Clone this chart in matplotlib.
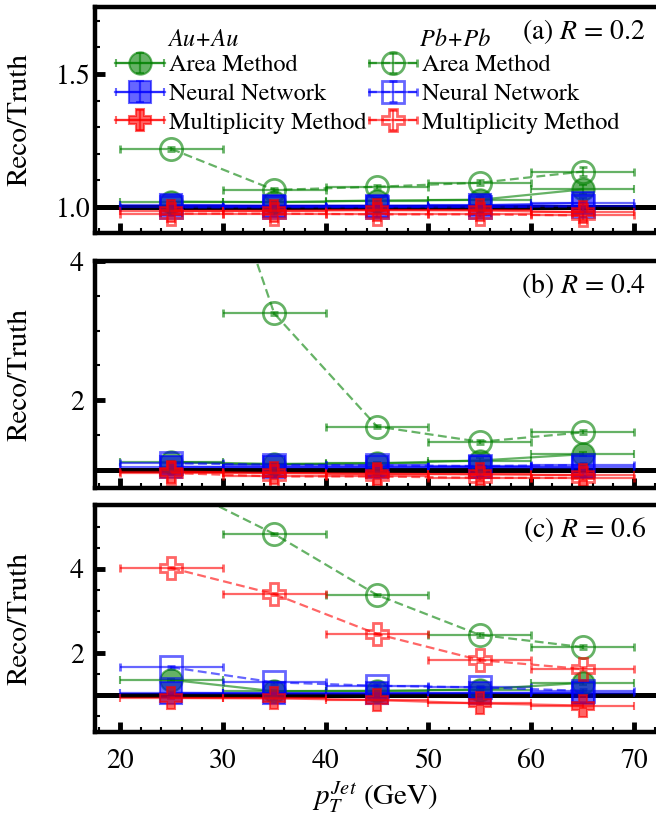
"""
Reco/Truth ratio of jet pT vs truth pT, for three jet radii.
Au+Au (filled, solid) vs Pb+Pb (open, dashed) for three background
subtraction methods.
"""

import matplotlib

matplotlib.use("Agg")
import matplotlib.pyplot as plt  # noqa: E402
from matplotlib.legend_handler import HandlerErrorbar  # noqa: E402
from matplotlib.ticker import FormatStrFormatter, MultipleLocator  # noqa: E402

plt.rcParams["font.family"] = "STIXGeneral"
plt.rcParams["mathtext.fontset"] = "stix"

# ----------------------------------------------------------------------
# Data
# ----------------------------------------------------------------------
pt = [25, 35, 45, 55, 65]
pt_halfwidth = [5, 5, 5, 5, 5]

# R = 0.2
au_area_02 = [1.020, 1.018, 1.024, 1.027, 1.066]
pb_area_02 = [1.218, 1.064, 1.076, 1.091, 1.133]
au_nn_02 = [1.006, 1.005, 1.005, 1.006, 1.015]
pb_nn_02 = [0.998, 0.999, 0.999, 1.000, 1.002]
au_mult_02 = [0.985, 0.986, 0.988, 0.987, 0.980]
pb_mult_02 = [0.975, 0.975, 0.972, 0.972, 0.968]
yerr_02 = [0.006, 0.006, 0.008, 0.010, 0.018]

# R = 0.4
au_area_04 = [1.11, 1.08, 1.09, 1.13, 1.22]
pb_area_04 = [7.60, 3.25, 1.62, 1.40, 1.535]
au_nn_04 = [1.04, 1.035, 1.035, 1.035, 1.03]
pb_nn_04 = [1.09, 1.07, 1.06, 1.05, 1.065]
au_mult_04 = [0.97, 0.95, 0.94, 0.93, 0.92]
pb_mult_04 = [0.95, 0.90, 0.90, 0.88, 0.88]
yerr_04 = [0.02, 0.02, 0.02, 0.03, 0.03]

# R = 0.6
au_area_06 = [1.36, 1.09, 1.10, 1.13, 1.29]
pb_area_06 = [6.05, 4.83, 3.38, 2.43, 2.14]
au_nn_06 = [1.05, 1.04, 1.04, 1.05, 1.05]
pb_nn_06 = [1.66, 1.30, 1.22, 1.18, 1.10]
au_mult_06 = [0.93, 0.92, 0.88, 0.80, 0.75]
pb_mult_06 = [4.02, 3.40, 2.45, 1.83, 1.62]
yerr_06 = [0.03, 0.03, 0.03, 0.04, 0.05]

methods = ["Area Method", "Neural Network", "Multiplicity Method"]
colors = ["green", "blue", "red"]
markers = ["o", "s", "P"]
marker_sizes = [16, 16, 16]

# ----------------------------------------------------------------------
W, H = 656, 818
fig = plt.figure(figsize=(W / 100, H / 100), dpi=100)


def px_axes(top, bottom, left=95, right=656):
    return fig.add_axes([left / W, (H - bottom) / H, (right - left) / W, (bottom - top) / H])


def draw_panel(ax, au_list, pb_list, yerr):
    ax.axhline(1.0, color="black", lw=3.6, zorder=1)
    handles_au, handles_pb = [], []
    for au, pb, c, m, ms in zip(au_list, pb_list, colors, markers, marker_sizes):
        h_au = ax.errorbar(pt, au, xerr=pt_halfwidth, yerr=yerr, fmt=m, ls="-",
                           color=c, mfc=c, mec=c, ms=ms, mew=1.5, lw=1.6,
                           elinewidth=1.6, capsize=3, capthick=1.6, alpha=0.6)
        h_pb = ax.errorbar(pt, pb, xerr=pt_halfwidth, yerr=yerr, fmt=m, ls="--",
                           dashes=(4, 2), color=c, mfc="none", mec=c, ms=ms,
                           mew=2.0, lw=1.6, elinewidth=1.6, capsize=3,
                           capthick=1.6, alpha=0.6)
        handles_au.append(h_au)
        handles_pb.append(h_pb)
    return handles_au, handles_pb


def style_axes(ax, ylim, ymajor, yminor, yfmt, show_xlabels, ypad):
    ax.set_xlim(17.57, 72.14)
    ax.set_ylim(*ylim)
    ax.xaxis.set_major_locator(MultipleLocator(10))
    ax.xaxis.set_minor_locator(MultipleLocator(2))
    ax.yaxis.set_major_locator(MultipleLocator(ymajor))
    ax.yaxis.set_minor_locator(MultipleLocator(yminor))
    ax.yaxis.set_major_formatter(FormatStrFormatter(yfmt))
    for side in ("left", "top", "bottom"):
        ax.spines[side].set_linewidth(3.2)
    ax.spines["right"].set_visible(False)
    ax.tick_params(which="both", direction="in", top=False, right=False, labelsize=20)
    ax.tick_params(which="major", length=7, width=3.5)
    ax.tick_params(which="minor", length=3.5, width=1.5)
    ax.tick_params(axis="x", pad=12, labelbottom=show_xlabels)
    ax.tick_params(axis="y", pad=ypad)
    ax.set_ylabel("Reco/Truth", fontsize=21)
    ax.yaxis.set_label_coords(-0.112, 0.5)


ax_a = px_axes(7, 233)
ax_b = px_axes(261, 488)
ax_c = px_axes(505, 732)

h_au, h_pb = draw_panel(ax_a, [au_area_02, au_nn_02, au_mult_02],
                        [pb_area_02, pb_nn_02, pb_mult_02], yerr_02)
draw_panel(ax_b, [au_area_04, au_nn_04, au_mult_04],
           [pb_area_04, pb_nn_04, pb_mult_04], yerr_04)
draw_panel(ax_c, [au_area_06, au_nn_06, au_mult_06],
           [pb_area_06, pb_nn_06, pb_mult_06], yerr_06)

style_axes(ax_a, (0.902, 1.752), 0.5, 0.1, "%.1f", False, 3)
style_axes(ax_b, (0.734, 4.005), 2, 0.5, "%d", False, 8)
style_axes(ax_c, (0.12, 5.52), 2, 0.5, "%d", True, 8)

ax_c.set_xlabel(r"$p_T^{Jet}$ (GeV)", fontsize=21, labelpad=4)

for ax, lab in ((ax_a, "(a) $R$ = 0.2"), (ax_b, "(b) $R$ = 0.4"), (ax_c, "(c) $R$ = 0.6")):
    ax.text(0.982, 0.89, lab, transform=ax.transAxes, ha="right", va="center", fontsize=20)

# two legend columns, each with its own italic heading
hmap = {type(h_au[0]): HandlerErrorbar(xerr_size=1.0, yerr_size=0.42)}
leg_kw = dict(loc="upper left", frameon=False, fontsize=17.5, numpoints=1,
              handlelength=2.05, handletextpad=0.15, labelspacing=0.27,
              borderpad=0, borderaxespad=0, handler_map=hmap)
leg1 = ax_a.legend(h_au, methods, bbox_to_anchor=(0.036, 0.79), **leg_kw)
ax_a.add_artist(leg1)
ax_a.legend(h_pb, methods, bbox_to_anchor=(0.487, 0.79), **leg_kw)
ax_a.text(0.130, 0.854, "Au+Au", transform=ax_a.transAxes, ha="left", va="center",
          fontsize=17.5, style="italic")
ax_a.text(0.579, 0.854, "Pb+Pb", transform=ax_a.transAxes, ha="left", va="center",
          fontsize=17.5, style="italic")

fig.savefig("out.png", dpi=100)
